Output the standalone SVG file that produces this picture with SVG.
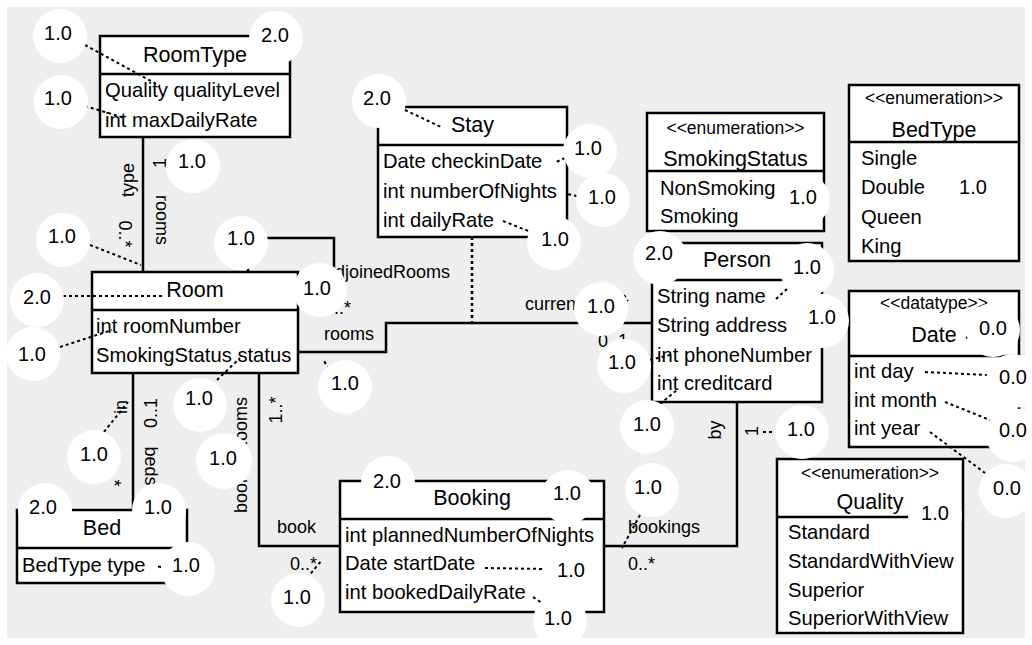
<svg xmlns="http://www.w3.org/2000/svg" width="1032" height="645" viewBox="0 0 1032 645">
  <style>
    text { font-family: "Liberation Sans", Arial, sans-serif; fill: #000; }
    .box { fill: #fff; stroke: #000; stroke-width: 2.5; }
    .sep { stroke: #000; stroke-width: 2.5; }
    .ln { fill: none; stroke: #000; stroke-width: 2.5; }
    .assoc { fill: none; stroke: #000; stroke-width: 2.5; stroke-dasharray: 3 3; }
    .lead { fill: none; stroke: #000; stroke-width: 2; stroke-dasharray: 3 3; }
    .sc { fill: #fff; }
    .title { font-size: 21.5px; text-anchor: middle; }
    .attr { font-size: 20.2px; }
    .stereo { font-size: 17.5px; text-anchor: middle; }
    .lbl { font-size: 18px; }
    .mid { text-anchor: middle; }
    .num { font-size: 20px; text-anchor: middle; }
  </style>

  <rect x="0" y="0" width="1032" height="645" fill="#fff"/>
  <rect x="7" y="7" width="1018" height="631" fill="#eeeeee"/>

  <!-- associations -->
  <g id="connectors">
    <path class="ln" d="M143,137 V272"/>
    <path class="ln" d="M248,272 V238 H334 V290 H298"/>
    <path class="ln" d="M298,352 H386 V323 H652"/>
    <path class="assoc" d="M472,237 V323"/>
    <path class="ln" d="M133,373 V510"/>
    <path class="ln" d="M259,373 V546 H340"/>
    <path class="ln" d="M604,546 H737 V402"/>

    <text class="lbl mid" transform="translate(134,180) rotate(-90)">type</text>
    <text class="lbl mid" transform="translate(166,163) rotate(-90)">1</text>
    <text class="lbl mid" transform="translate(156,220) rotate(90)">rooms</text>
    <text class="lbl mid" transform="translate(119,234) rotate(90)">0..*</text>

    <text class="lbl" x="325" y="278">adjoinedRooms</text>
    <text class="lbl" x="324" y="314">0..*</text>
    <text class="lbl" x="324" y="340">rooms</text>
    <text class="lbl" x="525" y="310">current</text>
    <text class="lbl" x="598" y="347">0..1</text>

    <text class="lbl mid" transform="translate(127,407) rotate(-90)">in</text>
    <text class="lbl mid" transform="translate(108,483) rotate(90)">*</text>
    <text class="lbl mid" transform="translate(157,413) rotate(-90)">0..1</text>
    <text class="lbl mid" transform="translate(145,466) rotate(90)">beds</text>

    <text class="lbl mid" transform="translate(247,455) rotate(-90)">bookedRooms</text>
    <text class="lbl mid" transform="translate(282,410) rotate(-90)">1..*</text>
    <text class="lbl" x="277" y="533">book</text>
    <text class="lbl" x="290" y="570">0..*</text>

    <text class="lbl" x="628" y="533">bookings</text>
    <text class="lbl" x="628" y="570">0..*</text>
    <text class="lbl mid" transform="translate(721,430) rotate(-90)">by</text>
    <text class="lbl mid" transform="translate(758,431) rotate(-90)">1</text>
  </g>

  <!-- classes -->
  <g id="RoomType">
    <rect class="box" x="100" y="36" width="190" height="101"/>
    <line class="sep" x1="100" y1="74" x2="290" y2="74"/>
    <text class="title" x="195" y="62">RoomType</text>
    <text class="attr" x="105" y="97">Quality qualityLevel</text>
    <text class="attr" x="105" y="126.5">int maxDailyRate</text>
  </g>

  <g id="Stay">
    <rect class="box" x="378" y="107" width="189" height="130"/>
    <line class="sep" x1="378" y1="145" x2="567" y2="145"/>
    <text class="title" x="472.5" y="132">Stay</text>
    <text class="attr" x="383" y="168">Date checkinDate</text>
    <text class="attr" x="383" y="197.5">int numberOfNights</text>
    <text class="attr" x="383" y="227">int dailyRate</text>
  </g>

  <g id="SmokingStatus">
    <rect class="box" x="647" y="113" width="177" height="118"/>
    <line class="sep" x1="647" y1="171" x2="824" y2="171"/>
    <text class="stereo" x="735.5" y="134">&lt;&lt;enumeration&gt;&gt;</text>
    <text class="title" x="735.5" y="165.5">SmokingStatus</text>
    <text class="attr" x="660" y="195">NonSmoking</text>
    <text class="attr" x="660" y="223">Smoking</text>
  </g>

  <g id="BedType">
    <rect class="box" x="849" y="85" width="170" height="176"/>
    <line class="sep" x1="849" y1="142" x2="1019" y2="142"/>
    <text class="stereo" x="934" y="104">&lt;&lt;enumeration&gt;&gt;</text>
    <text class="title" x="934" y="137">BedType</text>
    <text class="attr" x="861" y="164.5">Single</text>
    <text class="attr" x="861" y="194">Double</text>
    <text class="attr" x="861" y="223.5">Queen</text>
    <text class="attr" x="861" y="253">King</text>
  </g>

  <g id="Room">
    <rect class="box" x="92" y="272" width="206" height="101"/>
    <line class="sep" x1="92" y1="310" x2="298" y2="310"/>
    <text class="title" x="195" y="297">Room</text>
    <text class="attr" x="96" y="333">int roomNumber</text>
    <text class="attr" x="96" y="362">SmokingStatus status</text>
  </g>

  <g id="Person">
    <rect class="box" x="652" y="243" width="170" height="159"/>
    <line class="sep" x1="652" y1="280" x2="822" y2="280"/>
    <text class="title" x="737" y="267">Person</text>
    <text class="attr" x="657" y="303">String name</text>
    <text class="attr" x="657" y="332">String address</text>
    <text class="attr" x="657" y="361.5">int phoneNumber</text>
    <text class="attr" x="657" y="390">int creditcard</text>
  </g>

  <g id="Date">
    <rect class="box" x="849" y="291" width="170" height="156"/>
    <line class="sep" x1="849" y1="356" x2="1019" y2="356"/>
    <text class="stereo" x="934" y="309">&lt;&lt;datatype&gt;&gt;</text>
    <text class="title" x="934" y="342">Date</text>
    <text class="attr" x="854" y="378">int day</text>
    <text class="attr" x="854" y="407">int month</text>
    <text class="attr" x="854" y="435">int year</text>
  </g>

  <g id="Bed">
    <rect class="box" x="17" y="510" width="170" height="73"/>
    <line class="sep" x1="17" y1="548" x2="187" y2="548"/>
    <text class="title" x="102" y="535">Bed</text>
    <text class="attr" x="22" y="572">BedType type</text>
  </g>

  <g id="Booking">
    <rect class="box" x="340" y="481" width="264" height="131"/>
    <line class="sep" x1="340" y1="519" x2="604" y2="519"/>
    <text class="title" x="472" y="505">Booking</text>
    <text class="attr" x="345" y="542">int plannedNumberOfNights</text>
    <text class="attr" x="345" y="570">Date startDate</text>
    <text class="attr" x="345" y="599">int bookedDailyRate</text>
  </g>

  <g id="Quality">
    <rect class="box" x="777" y="459" width="186" height="174"/>
    <line class="sep" x1="777" y1="517" x2="963" y2="517"/>
    <text class="stereo" x="870" y="479">&lt;&lt;enumeration&gt;&gt;</text>
    <text class="title" x="870" y="509">Quality</text>
    <text class="attr" x="788" y="539">Standard</text>
    <text class="attr" x="788" y="568">StandardWithView</text>
    <text class="attr" x="788" y="597">Superior</text>
    <text class="attr" x="788" y="625">SuperiorWithView</text>
  </g>

  <!-- score pointers -->
  <g id="pointers">
    <path class="lead" d="M85,45 L160,86"/>
    <path class="lead" d="M85,106 L125,118"/>
    <path class="lead" d="M405,110 L443,128"/>
    <path class="lead" d="M565,158 L554,163"/>
    <path class="lead" d="M577,196 L567,194"/>
    <path class="lead" d="M503,221 L531,232"/>
    <path class="lead" d="M90,245 L141,265"/>
    <path class="lead" d="M63,296 L162,296"/>
    <path class="lead" d="M60,347 L112,330"/>
    <path class="lead" d="M217,380 L240,358"/>
    <path class="lead" d="M329,369 L324,361"/>
    <path class="lead" d="M624,295 L628,301"/>
    <path class="lead" d="M650,360 L670,355"/>
    <path class="lead" d="M660,404 L677,390"/>
    <path class="lead" d="M776,299 L787,289"/>
    <path class="lead" d="M966,338 L970,336"/>
    <path class="lead" d="M925,372 L987,375"/>
    <path class="lead" d="M945,402 L990,420"/>
    <path class="lead" d="M930,432 L985,473"/>
    <path class="lead" d="M763,432 L776,432"/>
    <path class="lead" d="M104,432 L128,402"/>
    <path class="lead" d="M161,567 L155,566"/>
    <path class="lead" d="M307,578 L322,560"/>
    <path class="lead" d="M485,568 L546,569"/>
    <path class="lead" d="M533,597 L545,605"/>
    <path class="lead" d="M640,515 L622,548"/>
  </g>

  <!-- score discs -->
  <g id="scores">
    <circle class="sc" cx="60" cy="36" r="27"/>
    <circle class="sc" cx="276" cy="38" r="27"/>
    <circle class="sc" cx="61" cy="102" r="27"/>
    <circle class="sc" cx="193" cy="166" r="27"/>
    <circle class="sc" cx="379" cy="101" r="27"/>
    <circle class="sc" cx="590" cy="151" r="27"/>
    <circle class="sc" cx="603" cy="200" r="27"/>
    <circle class="sc" cx="554" cy="243" r="27"/>
    <circle class="sc" cx="803" cy="200" r="27"/>
    <circle class="sc" cx="973" cy="190" r="27"/>
    <circle class="sc" cx="63" cy="240" r="27"/>
    <circle class="sc" cx="37" cy="300" r="27"/>
    <circle class="sc" cx="33" cy="354" r="27"/>
    <circle class="sc" cx="241" cy="243" r="27"/>
    <circle class="sc" cx="320" cy="290" r="27"/>
    <circle class="sc" cx="345" cy="387" r="27"/>
    <circle class="sc" cx="200" cy="405" r="27"/>
    <circle class="sc" cx="601" cy="309" r="27"/>
    <circle class="sc" cx="624" cy="366" r="27"/>
    <circle class="sc" cx="647" cy="427" r="27"/>
    <circle class="sc" cx="660" cy="258" r="27"/>
    <circle class="sc" cx="807" cy="270" r="27"/>
    <circle class="sc" cx="822" cy="321" r="27"/>
    <circle class="sc" cx="993" cy="330" r="27"/>
    <circle class="sc" cx="1013" cy="381" r="27"/>
    <circle class="sc" cx="1013" cy="435" r="27"/>
    <circle class="sc" cx="1006" cy="491" r="27"/>
    <circle class="sc" cx="935" cy="516" r="27"/>
    <circle class="sc" cx="802" cy="432" r="27"/>
    <circle class="sc" cx="94" cy="457" r="27"/>
    <circle class="sc" cx="224" cy="461" r="28"/>
    <circle class="sc" cx="45" cy="510" r="27"/>
    <circle class="sc" cx="159" cy="510" r="27"/>
    <circle class="sc" cx="188" cy="569" r="27"/>
    <circle class="sc" cx="298" cy="600" r="27"/>
    <circle class="sc" cx="388" cy="483" r="27"/>
    <circle class="sc" cx="568" cy="497" r="27"/>
    <circle class="sc" cx="571" cy="572" r="27"/>
    <circle class="sc" cx="560" cy="621" r="27"/>
    <circle class="sc" cx="652" cy="490" r="27"/>

    <text class="num" x="58" y="40">1.0</text>
    <text class="num" x="275" y="42">2.0</text>
    <text class="num" x="58" y="105">1.0</text>
    <text class="num" x="192" y="168">1.0</text>
    <text class="num" x="377" y="105">2.0</text>
    <text class="num" x="588" y="155">1.0</text>
    <text class="num" x="602" y="204">1.0</text>
    <text class="num" x="555" y="246">1.0</text>
    <text class="num" x="803" y="204">1.0</text>
    <text class="num" x="973" y="194">1.0</text>
    <text class="num" x="62" y="243">1.0</text>
    <text class="num" x="37" y="304">2.0</text>
    <text class="num" x="32" y="361">1.0</text>
    <text class="num" x="241" y="245">1.0</text>
    <text class="num" x="317" y="295">1.0</text>
    <text class="num" x="345" y="390">1.0</text>
    <text class="num" x="199" y="405">1.0</text>
    <text class="num" x="601" y="313">1.0</text>
    <text class="num" x="622" y="369">1.0</text>
    <text class="num" x="647" y="431">1.0</text>
    <text class="num" x="659" y="260">2.0</text>
    <text class="num" x="807" y="274">1.0</text>
    <text class="num" x="822" y="324">1.0</text>
    <text class="num" x="993" y="335">0.0</text>
    <text class="num" x="1013" y="384">0.0</text>
    <text class="num" x="1013" y="437">0.0</text>
    <text class="num" x="1007" y="495">0.0</text>
    <text class="num" x="935" y="520">1.0</text>
    <text class="num" x="801" y="436">1.0</text>
    <text class="num" x="94" y="461">1.0</text>
    <text class="num" x="223" y="465">1.0</text>
    <text class="num" x="43" y="514">2.0</text>
    <text class="num" x="158" y="514">1.0</text>
    <text class="num" x="186" y="572">1.0</text>
    <text class="num" x="297" y="604">1.0</text>
    <text class="num" x="387" y="488">2.0</text>
    <text class="num" x="567" y="500">1.0</text>
    <text class="num" x="571" y="577">1.0</text>
    <text class="num" x="558" y="625">1.0</text>
    <text class="num" x="648" y="494">1.0</text>
  </g>
</svg>
